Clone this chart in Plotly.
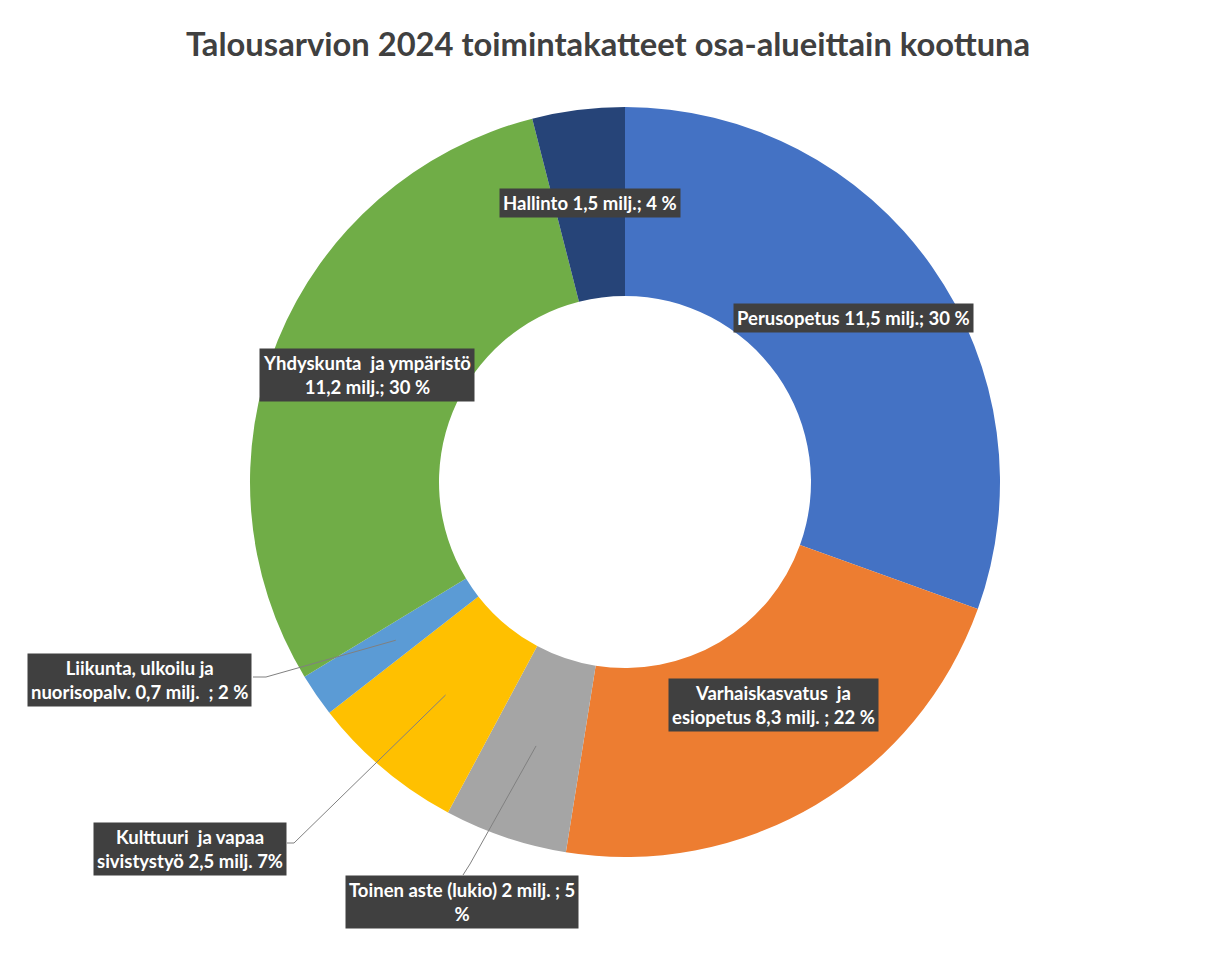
import math
import plotly.graph_objects as go

# ---- data ----
categories = ["Perusopetus", "Varhaiskasvatus ja esiopetus", "Toinen aste (lukio)",
              "Kulttuuri ja vapaa sivistystyö", "Liikunta, ulkoilu ja nuorisopalv.",
              "Yhdyskunta ja ympäristö", "Hallinto"]
values = [11.5, 8.3, 2.0, 2.5, 0.7, 11.2, 1.5]
label_texts = [
    "Perusopetus 11,5 milj.; 30 %",
    "Varhaiskasvatus  ja<br>esiopetus 8,3 milj. ; 22 %",
    "Toinen aste (lukio) 2 milj. ; 5<br>%",
    "Kulttuuri  ja vapaa<br>sivistystyö 2,5 milj. 7%",
    "Liikunta, ulkoilu ja<br>nuorisopalv. 0,7 milj.  ; 2 %",
    "Yhdyskunta  ja ympäristö<br>11,2 milj.; 30 %",
    "Hallinto 1,5 milj.; 4 %",
]
colors = ["#4472C4", "#ED7D31", "#A5A5A5", "#FFC000", "#5B9BD5", "#70AD47", "#264478"]

# ---- layout constants (pixels, in screen coordinates) ----
W, H = 1215, 956
OFF = 8  # page body margin
CX, CY, R_OUT, R_IN = 625, 482, 375, 186
label_pos = [(853, 318), (773, 705), (462, 902), (190, 849), (139, 680), (367, 375), (590, 203)]
leader_start = [None, None, [(463, 875), (470, 864)], [(287, 843), (294, 843)],
                [(253, 677), (266, 677)], None, None]

def px(x, y):
    return (x - OFF) / W, 1 - (y - OFF) / H

fig = go.Figure()
x0, y1 = px(CX - R_OUT, CY - R_OUT)
x1, y0 = px(CX + R_OUT, CY + R_OUT)
fig.add_trace(go.Pie(
    labels=categories, values=values, sort=False, direction="clockwise", rotation=0,
    hole=R_IN / R_OUT, marker=dict(colors=colors, line=dict(width=0)),
    textinfo="none", hoverinfo="label+value+percent", showlegend=False,
    domain=dict(x=[x0, x1], y=[y0, y1]),
))

total = sum(values)
cum = 0
shapes = []
annotations = []
for i, v in enumerate(values):
    mid = (cum + v / 2) / total * 2 * math.pi
    cum += v
    r_mid = (R_OUT + R_IN) / 2 - 2
    tip = (CX + r_mid * math.sin(mid), CY - r_mid * math.cos(mid))
    if leader_start[i]:
        pts = leader_start[i] + [tip]
        path = "M " + " L ".join("%f,%f" % px(*p) for p in pts)
        shapes.append(dict(type="path", path=path, xref="paper", yref="paper",
                           line=dict(color="#808080", width=1)))
    lx, ly = px(*label_pos[i])
    annotations.append(dict(
        x=lx, y=ly, xref="paper", yref="paper", xanchor="center", yanchor="middle",
        text="<b>" + label_texts[i] + "</b>",
        showarrow=False, bgcolor="#404040", borderpad=3,
        font=dict(family="Lato", size=18.5, color="white"), align="center",
    ))

# chart frame (top, left, faint right)
for (a, b, c) in [((5, 6), (1215, 6), "#C8C8C8"), ((6, 6), (6, 970), "#C8C8C8"),
                  ((1211, 6), (1211, 970), "#EEEEEE")]:
    ax0, ay0 = px(*a)
    ax1, ay1 = px(*b)
    shapes.append(dict(type="line", xref="paper", yref="paper", x0=ax0, y0=ay0, x1=ax1, y1=ay1,
                       line=dict(color=c, width=1.5)))

tx, ty = px(608, 45)
fig.update_layout(
    width=W, height=H, margin=dict(l=0, r=0, t=0, b=0),
    paper_bgcolor="white", plot_bgcolor="white",
    title=dict(text="<b>Talousarvion 2024 toimintakatteet osa-alueittain koottuna</b>",
               x=tx, xanchor="center", y=ty, yanchor="middle",
               font=dict(family="Lato", size=32.7, color="#404040")),
    shapes=shapes, annotations=annotations,
)

fig.write_html("out.html")
